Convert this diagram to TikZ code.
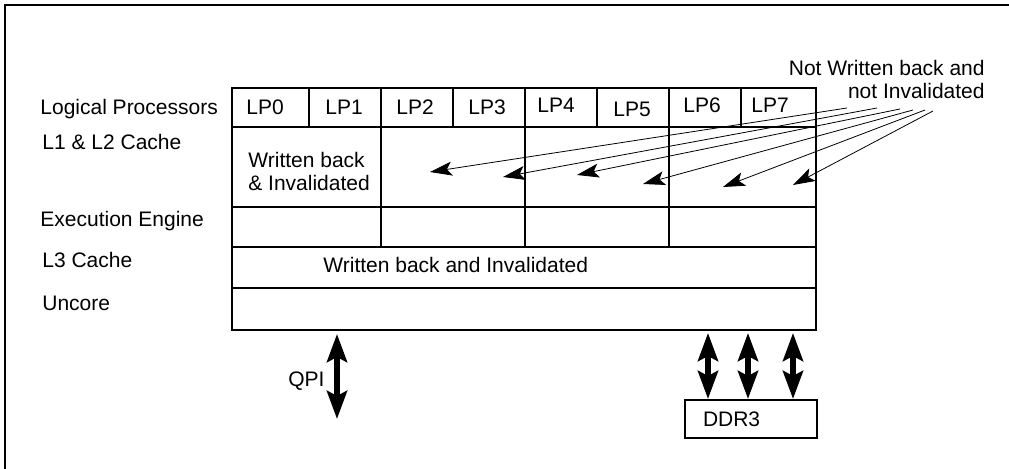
\documentclass[tikz,border=0pt]{standalone}
\usepackage{fontspec}
\setmainfont{Liberation Sans}
\usetikzlibrary{arrows.meta}
\tikzset{
  txt/.style={inner sep=0pt, font=\fontsize{10.5}{12.6}\selectfont},
  rowname/.style={txt, anchor=base west},
  frameline/.style={line width=1.4pt},
  boxline/.style={line width=1.2pt},
  gridline/.style={line width=0.6pt},
  pointer/.style={line width=0.4pt, -{Stealth[length=11pt,width=7pt,inset=2.5pt]}},
  bus/.style={line width=2.8pt, {Stealth[length=14pt,width=10pt,inset=2.5pt]}-{Stealth[length=14pt,width=10pt,inset=2.5pt]}},
  ddrbox/.style={draw, line width=1pt, txt, minimum width=66pt, minimum height=19pt,
    inner xsep=9pt, text width=48pt, align=left},
}
\begin{document}
\begin{tikzpicture}[x=0.5pt,y=-0.5pt]
 \useasboundingbox (0,0) rectangle (1009,469);
 % frame (only top and left edges show)
 \draw[frameline] (5,469) -- (5,5) -- (1009,5);
 % the chip
 \coordinate (chipNW) at (232,88);
 \coordinate (chipSE) at (816,330);
 \draw[boxline] (chipNW) rectangle (chipSE);
 \draw[gridline] (232,127) -- (816,127);
 \draw[gridline] (232,207) -- (816,207);
 \draw[gridline] (232,247) -- (816,247);
 \draw[gridline] (232,288) -- (816,288);
 \draw[gridline] (309,88) -- (309,127);
 \draw[gridline] (453,88) -- (453,127);
 \draw[gridline] (597,88) -- (597,127);
 \draw[gridline] (741,88) -- (741,127);
 \draw[gridline] (381,88) -- (381,247);
 \draw[gridline] (525,88) -- (525,247);
 \draw[gridline] (669,88) -- (669,247);
 % row names
 \node[rowname] (rlp) at (40,115) {Logical Processors};
 \node[rowname] (rl12) at (42,150) {L1 \& L2 Cache};
 \node[rowname] (rexe) at (40,227) {Execution Engine};
 \node[rowname] (rl3) at (42,268) {L3 Cache};
 \node[rowname] (runc) at (42,311) {Uncore};
 % logical processors
 \node[rowname] (lp0) at (246,115) {LP0};
 \node[rowname] (lp1) at (325,115) {LP1};
 \node[rowname] (lp2) at (396,115) {LP2};
 \node[rowname] (lp3) at (468,115) {LP3};
 \node[rowname] (lp4) at (537,113) {LP4};
 \node[rowname] (lp5) at (613,117) {LP5};
 \node[rowname] (lp6) at (683,113) {LP6};
 \node[rowname] (lp7) at (751,113) {LP7};
 \node[rowname] (wb1) at (248,168) {Written back};
 \node[rowname] (wb2) at (248,191) {\& Invalidated};
 \node[rowname] (wbl3) at (323,273) {Written back and Invalidated};
 \node[txt, anchor=base east] (nw1) at (985,76) {Not Written back and};
 \node[txt, anchor=base east] (nw2) at (985,99) {not Invalidated};
 % pointers from the note
 \coordinate (s1) at (847,108); \coordinate (t1) at (430,172);
 \coordinate (s2) at (877,108); \coordinate (t2) at (503,177);
 \coordinate (s3) at (900,109); \coordinate (t3) at (577,175);
 \coordinate (s4) at (913,110); \coordinate (t4) at (643,184);
 \coordinate (s5) at (925,110); \coordinate (t5) at (723,187);
 \coordinate (s6) at (933,111); \coordinate (t6) at (793,185);
 \draw[pointer] (s1) -- (t1);
 \draw[pointer] (s2) -- (t2);
 \draw[pointer] (s3) -- (t3);
 \draw[pointer] (s4) -- (t4);
 \draw[pointer] (s5) -- (t5);
 \draw[pointer] (s6) -- (t6);
 % QPI
 \coordinate (qpitop) at (337,334);
 \coordinate (qpibot) at (337,419);
 \draw[bus] (qpitop) -- (qpibot);
 \node[rowname] (qpi) at (288,387) {QPI};
 % memory
 \node[ddrbox] (ddr) at (751,419) {DDR3};
 \coordinate (m1) at (708,333);
 \coordinate (m2) at (748,333);
 \coordinate (m3) at (793,333);
 \draw[bus] (m1) -- (m1 |- ddr.north);
 \draw[bus] (m2) -- (m2 |- ddr.north);
 \draw[bus] (m3) -- (m3 |- ddr.north);
\end{tikzpicture}
\end{document}
